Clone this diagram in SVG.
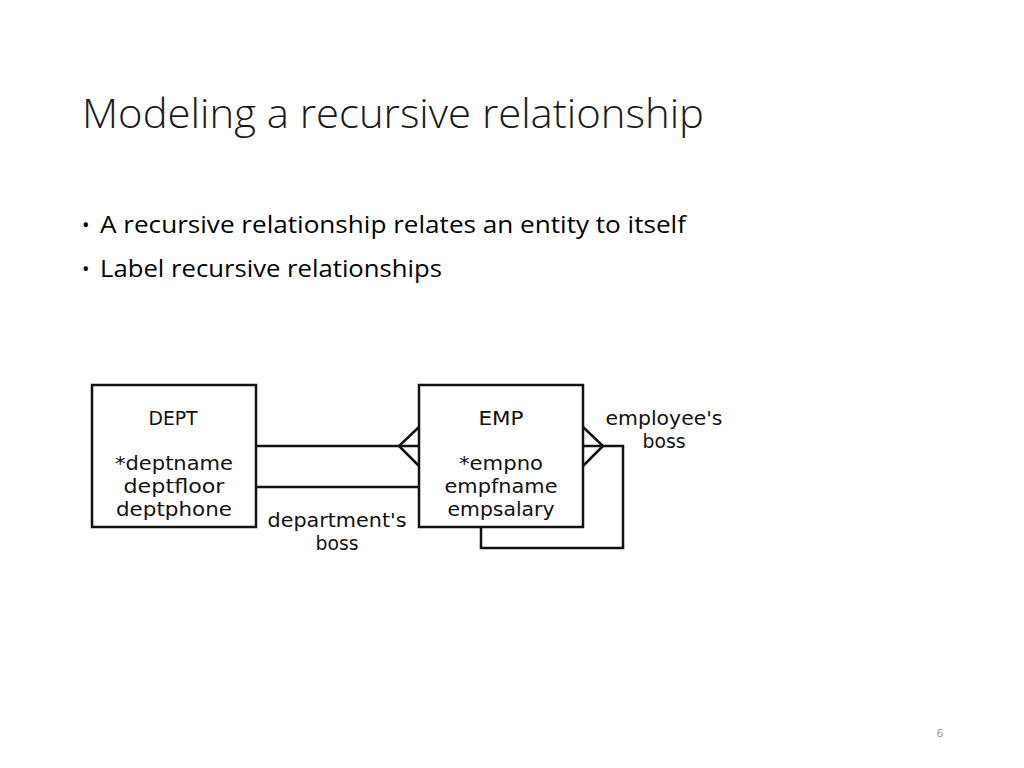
<svg xmlns="http://www.w3.org/2000/svg" width="1024" height="768" viewBox="0 0 1024 768">
<style>
.title{font-family:"Open Sans","Liberation Sans",sans-serif;font-weight:300;font-size:41px;fill:#1a1a1a}
.bul{font-family:"Open Sans","Liberation Sans",sans-serif;font-size:23.5px;fill:#000}
.dot{font-family:"Open Sans","Liberation Sans",sans-serif;font-size:20px;fill:#000}
.lbl{font-family:"DejaVu Sans","Open Sans",sans-serif;font-size:19px;fill:#111;text-anchor:middle}
.box{fill:#fff;stroke:#111;stroke-width:2.5}
.ln{fill:none;stroke:#111;stroke-width:2.5;stroke-linejoin:miter}
.pg{font-family:"Open Sans","Liberation Sans",sans-serif;font-size:11px;fill:#8c8c8c;text-anchor:middle}
</style>
<rect width="1024" height="768" fill="#fff"/>
<text class="title" x="82" y="128" textLength="622" lengthAdjust="spacingAndGlyphs">Modeling a recursive relationship</text>
<text class="dot" x="82" y="232">•</text>
<text class="bul" x="100" y="233" textLength="586" lengthAdjust="spacingAndGlyphs">A recursive relationship relates an entity to itself</text>
<text class="dot" x="82" y="276">•</text>
<text class="bul" x="100" y="277" textLength="342" lengthAdjust="spacingAndGlyphs">Label recursive relationships</text>
<g id="connectors">
<line class="ln" x1="256" y1="446" x2="419" y2="446"/>
<polyline class="ln" points="419,427 399,446 419,466"/>
<line class="ln" x1="256" y1="487" x2="419" y2="487"/>
<polyline class="ln" points="583,427 603,446 583,466"/>
<polyline class="ln" points="583,446 623,446 623,548 481,548 481,527"/>
<text class="lbl" x="337" y="527" textLength="139" lengthAdjust="spacingAndGlyphs">department's</text>
<text class="lbl" x="337" y="550" textLength="43" lengthAdjust="spacingAndGlyphs">boss</text>
<text class="lbl" x="664" y="425" textLength="117" lengthAdjust="spacingAndGlyphs">employee's</text>
<text class="lbl" x="664" y="448" textLength="43" lengthAdjust="spacingAndGlyphs">boss</text>
</g>
<g id="dept">
<rect class="box" x="92" y="385" width="164" height="142"/>
<text class="lbl" x="173" y="425" textLength="49" lengthAdjust="spacingAndGlyphs">DEPT</text>
<text class="lbl" x="174" y="470" textLength="118" lengthAdjust="spacingAndGlyphs">*deptname</text>
<text class="lbl" x="174" y="493" textLength="101" lengthAdjust="spacingAndGlyphs">deptfloor</text>
<text class="lbl" x="174" y="516" textLength="116" lengthAdjust="spacingAndGlyphs">deptphone</text>
</g>
<g id="emp">
<rect class="box" x="419" y="385" width="164" height="142"/>
<text class="lbl" x="501" y="425" textLength="45" lengthAdjust="spacingAndGlyphs">EMP</text>
<text class="lbl" x="501" y="470" textLength="84" lengthAdjust="spacingAndGlyphs">*empno</text>
<text class="lbl" x="501" y="493" textLength="113" lengthAdjust="spacingAndGlyphs">empfname</text>
<text class="lbl" x="501" y="516" textLength="107" lengthAdjust="spacingAndGlyphs">empsalary</text>
</g>
<text class="pg" x="940" y="737">6</text>
</svg>
